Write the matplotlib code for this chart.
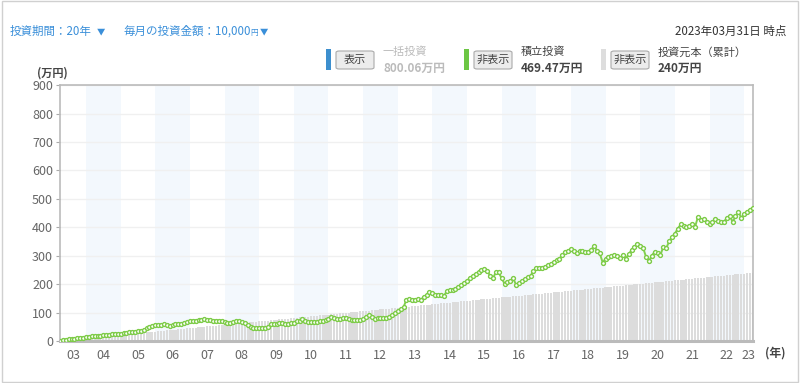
import numpy as np
import matplotlib
matplotlib.use('Agg')
import matplotlib.pyplot as plt
from matplotlib.patches import FancyBboxPatch, Rectangle

plt.rcParams['font.family'] = ['Noto Sans CJK JP', 'DejaVu Sans']

# monthly value of the accumulated investment (万円), 2003 .. 2023-03
tsumitate = [
    1, 2.5, 4, 5.5, 7, 8, 9.5, 11, 12, 13.5, 15, 16,
    17, 18, 19, 19.5, 20.5, 22, 23, 24, 25, 26, 27, 28.5,
    30, 31, 32, 33.5, 36, 39, 44, 48, 51, 55, 56, 57,
    58, 56, 54, 56, 58, 59, 61, 63, 66, 70, 71, 72,
    74, 75, 77, 75, 73, 72, 72, 71, 69, 67, 64, 62,
    66, 70, 69, 67, 62, 56, 48, 47, 46, 45, 45, 44,
    50, 58, 59, 61, 63, 62, 60, 58, 62, 65, 70, 72,
    76, 70, 66, 66, 67, 66, 69, 72, 74, 79, 84, 81,
    78, 79, 80, 80, 78, 75, 75, 74, 75, 76, 84, 90,
    86, 78, 80, 81, 81, 82, 85, 90, 97, 104, 112, 119,
    145, 146, 145, 145, 146, 145, 155, 162, 172, 168, 163, 163,
    163, 159, 175, 178, 181, 184, 190, 196, 205, 212, 222, 230,
    237, 243, 249, 252, 247, 229, 220, 243, 241, 220, 202, 206,
    210, 220, 198, 205, 210, 218, 224, 230, 245, 255, 256, 258,
    262, 266, 272, 278, 284, 290, 302, 313, 318, 323, 315, 308,
    318, 315, 313, 313, 320, 335, 318, 308, 276, 290, 296, 300,
    304, 298, 292, 302, 290, 305, 320, 332, 340, 335, 328, 296,
    280, 300, 314, 310, 302, 332, 326, 350, 366, 378, 395, 410,
    405, 401, 406, 410, 401, 437, 425, 428, 420, 413, 420, 428,
    422, 418, 420, 432, 440, 419, 438, 455, 434, 445, 455, 462,
    469.47,
]
monthly_amount = 1  # 万円 (10,000円)
n = len(tsumitate)
months = np.arange(n)
principal = months * monthly_amount
x = 2003.25 + months / 12

years = list(range(2003, 2024))
year_labels = [f'{y % 100:02d}' for y in years]

fig = plt.figure(figsize=(8, 3.83), dpi=100)
ax = fig.add_axes([0.075, 0.1097, 0.866, 0.668])

x0, x1 = x[0], x[-1]
for y in range(2004, 2023, 2):
    ax.axvspan(y, y + 1, color='#f3f8fd', zorder=0, lw=0)

ax.bar(x, principal, width=0.75 / 12, color='#dcdcdc', lw=0, zorder=2)
ax.plot(x, tsumitate, color='#82cf4f', lw=1.4, marker='o', ms=2.8,
        mfc='white', mec='#7ccb46', mew=1.0, zorder=4)

ax.set_xlim(x0, x1)
ax.set_ylim(0, 900)
ax.set_yticks(range(0, 901, 100))
ax.grid(axis='y', color='#f0f0f0', lw=1, zorder=1)
ax.set_axisbelow(True)

tick_pos = []
for y in years:
    lo, hi = max(y, x0), min(y + 1, x1)
    tick_pos.append((lo + hi) / 2)
ax.set_xticks(tick_pos)
ax.set_xticklabels(year_labels)
ax.tick_params(axis='x', length=0, pad=6, labelsize=9, labelcolor='#666666')
ax.tick_params(axis='y', length=3, color='#aaaaaa', pad=2, labelsize=9, labelcolor='#666666')

for side in ['top', 'right', 'left']:
    ax.spines[side].set_color('#bbbbbb')
    ax.spines[side].set_linewidth(1.2)
ax.spines['bottom'].set_color('#bbbbbb')
ax.spines['bottom'].set_linewidth(2.2)

# outer frame
fig.patches.append(Rectangle((0.002, 0.003), 0.995, 0.994, transform=fig.transFigure,
                             fill=False, ec='#d0d0d0', lw=1))

def px(xp, yp):
    return xp / 800, 1 - yp / 383

blue = '#3a8fd9'
fig.text(*px(10, 31), '投資期間：20年', color=blue, fontsize=8.3, va='center')
fig.text(*px(97, 32), '▼', color=blue, fontsize=6, va='center')
fig.text(*px(124, 31), '毎月の投資金額：10,000', color=blue, fontsize=8.3, va='center')
fig.text(*px(250, 33), '円', color=blue, fontsize=5.5, va='center')
fig.text(*px(260, 32), '▼', color=blue, fontsize=6, va='center')
fig.text(*px(786, 31), '2023年03月31日 時点', color='#333333', fontsize=8.3,
         va='center', ha='right')

legend_items = [
    (326, '#3d8fce', '表示', '一括投資', '800.06万円', '#bbbbbb'),
    (464, '#6cc644', '非表示', '積立投資', '469.47万円', '#444444'),
    (601, '#dddddd', '非表示', '投資元本（累計）', '240万円', '#444444'),
]
for xl, col, btn, name, val, tcol in legend_items:
    fig.patches.append(Rectangle(px(xl, 70), 5 / 800, 21 / 383, transform=fig.transFigure,
                                 color=col, lw=0))
    bx, by = px(xl + 10, 69)
    fig.patches.append(FancyBboxPatch((bx, by), 38 / 800, 18 / 383,
                                      boxstyle='round,pad=0,rounding_size=0.004',
                                      transform=fig.transFigure, fc='#ececec',
                                      ec='#aaaaaa', lw=0.8))
    fig.text(bx + 19 / 800, by + 9 / 383, btn, fontsize=8, color='#444444',
             ha='center', va='center')
    fig.text(*px(xl + 57, 52), name, fontsize=8, color=tcol, va='center')
    fig.text(*px(xl + 57, 68), val, fontsize=8.5, color=tcol, va='center',
             fontweight='bold')

fig.text(*px(37, 73), '(万円)', fontsize=8, color='#444444', va='center',
         fontweight='bold')
fig.text(*px(765, 353), '(年)', fontsize=8.5, color='#444444', va='center',
         fontweight='bold')

fig.savefig('out.png', dpi=100)
